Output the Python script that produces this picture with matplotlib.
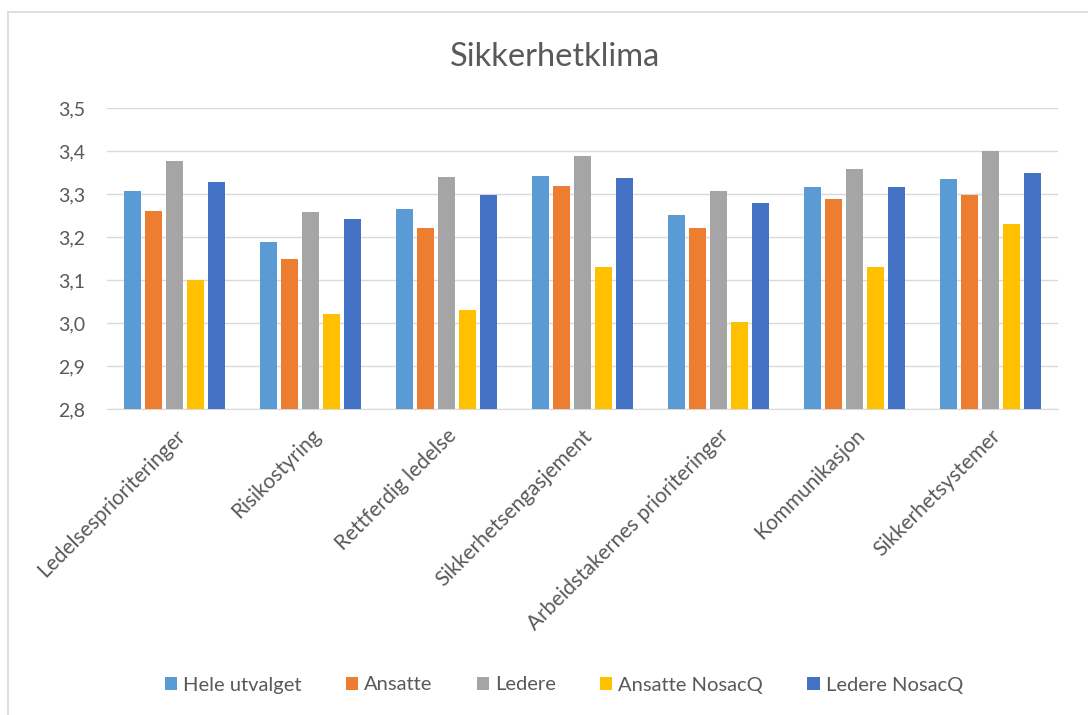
import matplotlib
matplotlib.use("Agg")
import matplotlib.pyplot as plt
import numpy as np
from matplotlib.lines import Line2D

categories = ["Ledelsesprioriteringer", "Risikostyring", "Rettferdig ledelse",
              "Sikkerhetsengasjement", "Arbeidstakernes prioriteringer",
              "Kommunikasjon", "Sikkerhetsystemer"]
series_names = ["Hele utvalget", "Ansatte", "Ledere", "Ansatte NosacQ", "Ledere NosacQ"]
hele_utvalget = [3.307, 3.189, 3.266, 3.343, 3.252, 3.317, 3.334]
ansatte = [3.261, 3.149, 3.221, 3.318, 3.221, 3.289, 3.298]
ledere = [3.377, 3.257, 3.340, 3.389, 3.307, 3.358, 3.399]
ansatte_nosacq = [3.100, 3.021, 3.030, 3.130, 3.002, 3.130, 3.230]
ledere_nosacq = [3.329, 3.241, 3.298, 3.338, 3.280, 3.317, 3.349]
yticks = [2.8, 2.9, 3.0, 3.1, 3.2, 3.3, 3.4, 3.5]
ytick_labels = ["2,8", "2,9", "3,0", "3,1", "3,2", "3,3", "3,4", "3,5"]

colors = ["#5B9BD5", "#ED7D31", "#A5A5A5", "#FFC000", "#4472C4"]
text_color = "#595959"
plt.rcParams['font.family'] = ['Lato', 'DejaVu Sans']

W, H = 1088, 715
fig = plt.figure(figsize=(W / 100, H / 100), dpi=100)
ax = fig.add_axes([107 / W, 1 - 409 / H, (1058 - 107) / W, (409 - 108) / H])

data = [hele_utvalget, ansatte, ledere, ansatte_nosacq, ledere_nosacq]
x = np.arange(len(categories))
pitch = 0.1545
width = 0.125
for i, (name, vals) in enumerate(zip(series_names, data)):
    ax.bar(x + (i - 2) * pitch, np.array(vals) - 2.8, bottom=2.8, width=width,
           color=colors[i], label=name, zorder=3)

ax.set_xlim(-0.5, len(categories) - 0.5)
ax.set_ylim(2.8, 3.5)
ax.set_yticks(yticks)
ax.set_yticklabels(ytick_labels)
ax.yaxis.grid(True, color="#D9D9D9", linewidth=1.0, zorder=0)
for s in ["top", "right", "left"]:
    ax.spines[s].set_visible(False)
ax.spines["bottom"].set_color("#D9D9D9")
ax.tick_params(axis="y", length=0, pad=16, labelsize=14, labelcolor=text_color)
ax.tick_params(axis="x", length=0, pad=12, labelsize=15, labelcolor=text_color)
ax.set_xticks(x)
ax.set_xticklabels(categories, rotation=45, ha="right", va="top", rotation_mode="anchor")

fig.text(555 / W, 1 - 57 / H, "Sikkerhetklima", ha="center", va="center",
         fontsize=23.5, color=text_color)

leg = fig.legend(loc="center", bbox_to_anchor=(564 / W, 1 - 685 / H), ncol=5,
                 frameon=False, fontsize=14.5, handlelength=0.6, handleheight=0.6,
                 handletextpad=0.3, columnspacing=2.2)
for t in leg.get_texts():
    t.set_color(text_color)

# chart border (top and left visible in reference)
fig.add_artist(Line2D([8 / W, 8 / W], [0, 1 - 12 / H], transform=fig.transFigure,
                      color="#D9D9D9", linewidth=1.2))
fig.add_artist(Line2D([8 / W, 1], [1 - 12 / H, 1 - 12 / H], transform=fig.transFigure,
                      color="#D9D9D9", linewidth=1.2))

fig.savefig("out.png", dpi=100, facecolor="white")
